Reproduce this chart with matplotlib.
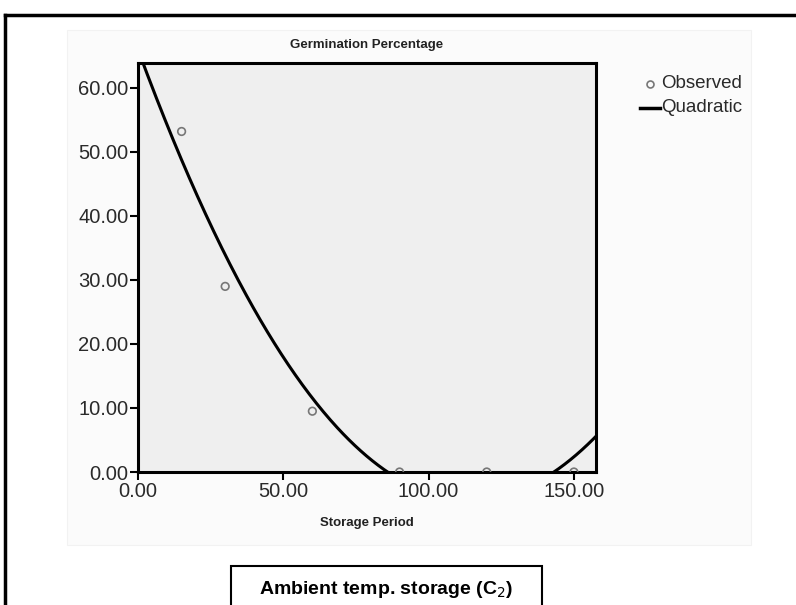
import numpy as np
import matplotlib.pyplot as plt
from matplotlib.patches import Rectangle
from matplotlib.lines import Line2D

plt.rcParams['font.family'] = ['Liberation Sans', 'DejaVu Sans']

# observed germination (%) vs storage period (days)
storage_days = [15, 30, 60, 90, 120, 150]
germination = [53.2, 29.0, 9.5, 0.0, 0.0, 0.0]

# quadratic fit coefficients (a + b*x + c*x^2)
quad_a = 66.0
quad_b = -1.2297
quad_c = 0.00537

xticks = [0, 50, 100, 150]
yticks = [0, 10, 20, 30, 40, 50, 60]

fig = plt.figure(figsize=(7.96, 6.05), dpi=100)
W, H = 796, 605

def fx(px):
    return px / W

def fy(py):
    return 1 - py / H

# faint chart panel behind the plot
fig.patches.append(Rectangle((fx(67), fy(545)), fx(751) - fx(67), fy(30) - fy(545),
                             transform=fig.transFigure, facecolor='#fbfbfb',
                             edgecolor='#f2f2f2', lw=0.8, zorder=-5))
# outer frame lines (top and left)
fig.add_artist(Line2D([fx(5), 1.0], [fy(15), fy(15)], color='black', lw=2.5,
                      transform=fig.transFigure))
fig.add_artist(Line2D([fx(5), fx(5)], [fy(15), 0.0], color='black', lw=2.5,
                      transform=fig.transFigure))

ax = fig.add_axes([fx(138), fy(472), fx(596) - fx(138), fy(63) - fy(472)], zorder=2)
ax.set_facecolor('#efefef')

xs = np.linspace(0, 160, 400)
ys = quad_a + quad_b * xs + quad_c * xs ** 2
ax.plot(xs, ys, color='black', lw=2.2, zorder=2)
ax.scatter(storage_days, germination, s=30, facecolors='none', edgecolors='#777777',
           linewidths=1.2, zorder=3)

ax.set_xlim(0, 157.6)
ax.set_ylim(0, 63.9)
ax.set_xticks(xticks)
ax.set_yticks(yticks)
ax.set_xticklabels(['%.2f' % v for v in xticks])
ax.set_yticklabels(['%.2f' % v for v in yticks])
ax.tick_params(axis='both', direction='out', length=6, width=1.5, labelsize=14.5,
               color='black', labelcolor='#2a2a2a', pad=1)
ax.tick_params(axis='x', pad=1)
for s in ax.spines.values():
    s.set_linewidth(2.2)
    s.set_color('black')

fig.text(fx(367), fy(45), 'Germination Percentage', ha='center', va='center',
         fontsize=9.5, fontweight='bold', color='#222222')
fig.text(fx(367), fy(523), 'Storage Period', ha='center', va='center',
         fontsize=9.5, fontweight='bold', color='#222222')

# legend
fig.add_artist(Line2D([fx(650)], [fy(84)], marker='o', markersize=5, mfc='none',
                      mec='#777777', mew=1.2, transform=fig.transFigure))
fig.text(fx(661), fy(84), 'Observed', ha='left', va='center', fontsize=13.5,
         color='#2a2a2a')
fig.add_artist(Line2D([fx(640), fx(660)], [fy(108), fy(108)], color='black', lw=2.5,
                      transform=fig.transFigure))
fig.text(fx(661), fy(108), 'Quadratic', ha='left', va='center', fontsize=13.5,
         color='#2a2a2a')

# caption box
fig.patches.append(Rectangle((fx(231), fy(640)), fx(542) - fx(231), fy(566) - fy(640),
                             transform=fig.transFigure, facecolor='white',
                             edgecolor='black', lw=1.5, zorder=1))
fig.text(fx(386), fy(590), 'Ambient temp. storage (C$_2$)', ha='center', va='center',
         fontsize=14, fontweight='bold')

fig.savefig('out.png', dpi=100)
